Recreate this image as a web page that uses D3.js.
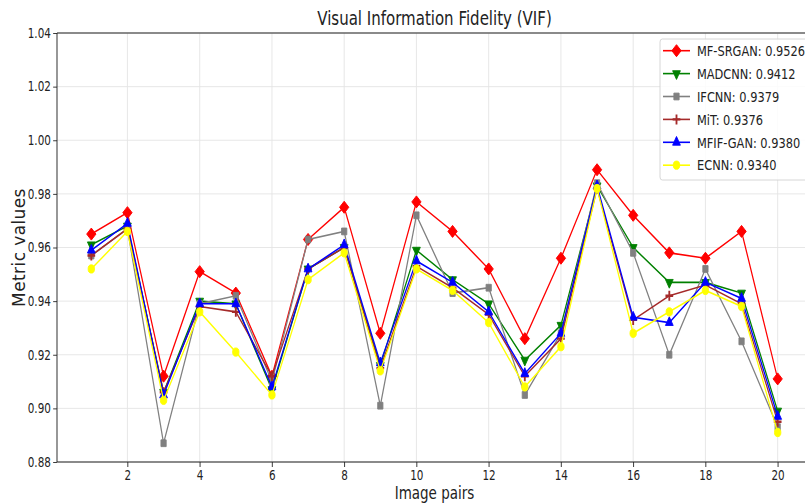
<!DOCTYPE html>
<html>
<head>
<meta charset="utf-8">
<script src="https://cdn.jsdelivr.net/npm/d3@7"></script>
<style>
  body { margin: 0; background: #fff; }
  svg { display: block; font-family: "DejaVu Sans", sans-serif; }
</style>
</head>
<body>
<svg id="chart" width="805" height="504"></svg>
<script>
// Image pair indices (x axis)
const pairs = [1, 2, 3, 4, 5, 6, 7, 8, 9, 10, 11, 12, 13, 14, 15, 16, 17, 18, 19, 20];

// Method names and their mean VIF shown in the legend
const methods = ["MF-SRGAN", "MADCNN", "IFCNN", "MiT", "MFIF-GAN", "ECNN"];
const meanScores = ["0.9526", "0.9412", "0.9379", "0.9376", "0.9380", "0.9340"];

// VIF per image pair, one array per method
const mfsrgan = [0.965, 0.973, 0.912, 0.951, 0.943, 0.912, 0.963, 0.975, 0.928, 0.977, 0.966, 0.952, 0.926, 0.956, 0.989, 0.972, 0.958, 0.956, 0.966, 0.911];
const madcnn  = [0.961, 0.968, 0.906, 0.940, 0.939, 0.907, 0.952, 0.960, 0.916, 0.959, 0.948, 0.939, 0.918, 0.931, 0.983, 0.960, 0.947, 0.947, 0.943, 0.899];
const ifcnn   = [0.957, 0.967, 0.887, 0.939, 0.942, 0.910, 0.963, 0.966, 0.901, 0.972, 0.943, 0.945, 0.905, 0.928, 0.984, 0.958, 0.920, 0.952, 0.925, 0.893];
const mit     = [0.957, 0.967, 0.906, 0.938, 0.936, 0.912, 0.952, 0.960, 0.915, 0.953, 0.945, 0.935, 0.912, 0.926, 0.982, 0.933, 0.942, 0.946, 0.939, 0.895];
const mfifgan = [0.959, 0.969, 0.905, 0.939, 0.939, 0.908, 0.952, 0.961, 0.917, 0.955, 0.947, 0.936, 0.913, 0.928, 0.983, 0.934, 0.932, 0.947, 0.941, 0.897];
const ecnn    = [0.952, 0.966, 0.903, 0.936, 0.921, 0.905, 0.948, 0.958, 0.914, 0.952, 0.944, 0.932, 0.908, 0.923, 0.982, 0.928, 0.936, 0.944, 0.938, 0.891];

// Axis ticks
const yTicks = [0.88, 0.90, 0.92, 0.94, 0.96, 0.98, 1.00, 1.02, 1.04];
const xTicks = [2, 4, 6, 8, 10, 12, 14, 16, 18, 20];

const colors  = ["red", "green", "gray", "brown", "blue", "yellow"];
const markers = ["diamond", "triDown", "square", "plus", "triUp", "circle"];
const valueLists = [mfsrgan, madcnn, ifcnn, mit, mfifgan, ecnn];

// The figure is drawn in a horizontally condensed frame
const SX = 0.77;
const plot = { left: 57 / SX, right: 812 / SX, top: 33, bottom: 462 };

const svg = d3.select("#chart");
const root = svg.append("g").attr("transform", `scale(${SX},1)`);

const x = d3.scaleLinear().domain([0.05, 20.95]).range([plot.left, plot.right]);
const y = d3.scaleLinear().domain([0.88, 1.04]).range([plot.bottom, plot.top]);

// Grid
const grid = root.append("g").attr("stroke", "#e4e4e4").attr("stroke-width", 1);
grid.selectAll(".gy").data(yTicks).join("line")
  .attr("x1", plot.left).attr("x2", plot.right)
  .attr("y1", d => y(d)).attr("y2", d => y(d));
grid.selectAll(".gx").data(xTicks).join("line")
  .attr("x1", d => x(d)).attr("x2", d => x(d))
  .attr("y1", plot.top).attr("y2", plot.bottom);

// Axes
const yAxis = root.append("g")
  .attr("transform", `translate(${plot.left},0)`)
  .call(d3.axisLeft(y).tickValues(yTicks).tickFormat(d3.format(".2f")).tickSize(5).tickPadding(3));
const xAxis = root.append("g")
  .attr("transform", `translate(0,${plot.bottom})`)
  .call(d3.axisBottom(x).tickValues(xTicks).tickFormat(d3.format("d")).tickSize(5).tickPadding(3));
[yAxis, xAxis].forEach(a => {
  a.select(".domain").remove();
  a.selectAll(".tick line").attr("stroke", "#222").attr("stroke-width", 1);
  a.selectAll(".tick text").attr("fill", "#222").style("font-size", "13.5px").style("font-family", "DejaVu Sans, sans-serif");
});

// Spines: left, bottom, top
const spine = root.append("g").attr("stroke", "#222").attr("stroke-width", 1.2).attr("fill", "none");
spine.append("line").attr("x1", plot.left).attr("x2", plot.left).attr("y1", plot.top).attr("y2", plot.bottom);
spine.append("line").attr("x1", plot.left).attr("x2", plot.right).attr("y1", plot.bottom).attr("y2", plot.bottom);
spine.append("line").attr("x1", plot.left).attr("x2", plot.right).attr("y1", plot.top).attr("y2", plot.top);

// Marker drawing
function markerPath(type) {
  switch (type) {
    case "diamond": return d3.symbol(d3.symbolSquare, 72)();
    case "triDown": return d3.symbol(d3.symbolTriangle, 44)();
    case "square":  return d3.symbol(d3.symbolSquare, 46)();
    case "plus":    return "M-5,0H5M0,-5V5";
    case "triUp":   return d3.symbol(d3.symbolTriangle, 44)();
    default:        return d3.symbol(d3.symbolCircle, 54)();
  }
}
function markerRotation(type) {
  if (type === "diamond") return 45;
  if (type === "triDown") return 180;
  return 0;
}
function addMarker(g, type, color, cx, cy) {
  const p = g.append("path")
    .attr("d", markerPath(type))
    .attr("transform", `translate(${cx},${cy}) rotate(${markerRotation(type)})`);
  if (type === "plus") {
    p.attr("fill", "none").attr("stroke", color).attr("stroke-width", 2.4);
  } else {
    p.attr("fill", color).attr("stroke", color).attr("stroke-width", 1);
  }
}

// Series
const line = d3.line().x((d, i) => x(pairs[i])).y(d => y(d));
methods.forEach((name, k) => {
  const g = root.append("g");
  g.append("path")
    .datum(valueLists[k])
    .attr("d", line)
    .attr("fill", "none")
    .attr("stroke", colors[k])
    .attr("stroke-width", 1.6);
  valueLists[k].forEach((v, i) => addMarker(g, markers[k], colors[k], x(pairs[i]), y(v)));
});

// Title and axis labels
root.append("text")
  .attr("x", (plot.left + plot.right) / 2).attr("y", 25)
  .attr("text-anchor", "middle").attr("fill", "#222")
  .style("font-size", "19.5px")
  .text("Visual Information Fidelity (VIF)");
root.append("text")
  .attr("x", (plot.left + plot.right) / 2).attr("y", 499)
  .attr("text-anchor", "middle").attr("fill", "#222")
  .style("font-size", "17.5px")
  .text("Image pairs");
svg.append("text")
  .attr("transform", `translate(24.5,${(plot.top + plot.bottom) / 2}) rotate(-90)`)
  .attr("text-anchor", "middle").attr("fill", "#222")
  .style("font-size", "17px")
  .style("letter-spacing", "0.4px")
  .text("Metric values");

// Legend
const lg = { left: 660 / SX, right: 809 / SX, top: 39, bottom: 180 };
const legend = root.append("g");
legend.append("rect")
  .attr("x", lg.left).attr("y", lg.top)
  .attr("width", lg.right - lg.left).attr("height", lg.bottom - lg.top)
  .attr("rx", 3).attr("fill", "white").attr("fill-opacity", 0.85)
  .attr("stroke", "#d0d0d0").attr("stroke-width", 1);
methods.forEach((name, k) => {
  const cy = 50.7 + k * 22.9;
  const row = legend.append("g");
  row.append("line")
    .attr("x1", 663 / SX).attr("x2", 690 / SX)
    .attr("y1", cy).attr("y2", cy)
    .attr("stroke", colors[k]).attr("stroke-width", 1.6);
  addMarker(row, markers[k], colors[k], 676.5 / SX, cy);
  row.append("text")
    .attr("x", 697 / SX).attr("y", cy + 5.3)
    .attr("fill", "#222").style("font-size", "14.8px")
    .text(`${name}: ${meanScores[k]}`);
});
</script>
</body>
</html>
